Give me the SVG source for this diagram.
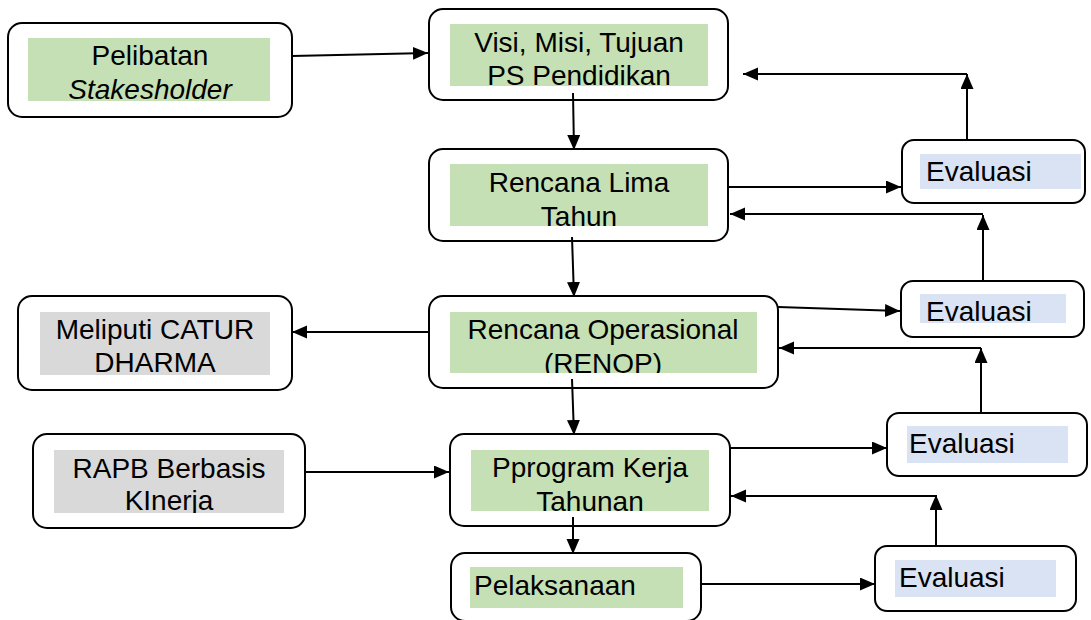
<svg xmlns="http://www.w3.org/2000/svg" width="1091" height="620" viewBox="0 0 1091 620">
<style>
.box{fill:#fff;stroke:#000;stroke-width:2}
.g{fill:#c5e0b4}
.gr{fill:#d9d9d9}
.b{fill:#dae3f3}
.t{font-family:"Liberation Sans",Arial,sans-serif;font-size:28px;fill:#000}
.c{stroke:#000;stroke-width:2;fill:none;marker-end:url(#ah)}
</style>
<defs>
<marker id="ah" markerUnits="userSpaceOnUse" markerWidth="16" markerHeight="14" refX="15" refY="6.5" orient="auto"><path d="M0,0 L15,6.5 L0,13 z" fill="#000"/></marker>
<clipPath id="cp2"><rect x="450" y="24" width="258" height="62"/></clipPath>
<clipPath id="cp3"><rect x="450" y="164" width="258" height="62"/></clipPath>
<clipPath id="cp4"><rect x="450" y="312" width="307" height="61"/></clipPath>
<clipPath id="cp5"><rect x="40" y="312" width="230" height="63"/></clipPath>
<clipPath id="cp6"><rect x="471" y="450" width="238" height="61"/></clipPath>
<clipPath id="cp7"><rect x="54" y="450" width="230" height="63"/></clipPath>
</defs>
<g id="n-pelibatan">
<rect class="box" x="8" y="23" width="284" height="94" rx="14"/>
<rect class="g" x="28" y="38" width="242" height="63"/>
<text class="t" x="150" y="65" text-anchor="middle">Pelibatan</text>
<text class="t" x="150" y="99" text-anchor="middle" font-style="italic">Stakesholder</text>
</g>
<g id="n-visi">
<rect class="box" x="429" y="9" width="299" height="91" rx="14"/>
<rect class="g" x="450" y="24" width="258" height="62"/>
<g clip-path="url(#cp2)">
<text class="t" x="579" y="52" text-anchor="middle">Visi, Misi, Tujuan</text>
<text class="t" x="579" y="85" text-anchor="middle">PS Pendidikan</text>
</g>
</g>
<g id="n-lima">
<rect class="box" x="429" y="149" width="299" height="92" rx="14"/>
<rect class="g" x="450" y="164" width="258" height="62"/>
<g clip-path="url(#cp3)">
<text class="t" x="579" y="192" text-anchor="middle">Rencana Lima</text>
<text class="t" x="579" y="226" text-anchor="middle">Tahun</text>
</g>
</g>
<g id="n-renop">
<rect class="box" x="429" y="296" width="349" height="92" rx="14"/>
<rect class="g" x="450" y="312" width="307" height="61"/>
<g clip-path="url(#cp4)">
<text class="t" x="603" y="339" text-anchor="middle">Rencana Operasional</text>
<text class="t" x="603" y="373" text-anchor="middle">(RENOP)</text>
</g>
</g>
<g id="n-meliputi">
<rect class="box" x="18" y="296" width="274" height="94" rx="14"/>
<rect class="gr" x="40" y="312" width="230" height="63"/>
<g clip-path="url(#cp5)">
<text class="t" x="155" y="339" text-anchor="middle">Meliputi CATUR</text>
<text class="t" x="155" y="372" text-anchor="middle">DHARMA</text>
</g>
</g>
<g id="n-program">
<rect class="box" x="450" y="434" width="280" height="92" rx="14"/>
<rect class="g" x="471" y="450" width="238" height="61"/>
<g clip-path="url(#cp6)">
<text class="t" x="590" y="477" text-anchor="middle">Pprogram Kerja</text>
<text class="t" x="590" y="511" text-anchor="middle">Tahunan</text>
</g>
</g>
<g id="n-rapb">
<rect class="box" x="33" y="434" width="272" height="94" rx="14"/>
<rect class="gr" x="54" y="450" width="230" height="63"/>
<g clip-path="url(#cp7)">
<text class="t" x="169" y="478" text-anchor="middle">RAPB Berbasis</text>
<text class="t" x="169" y="510" text-anchor="middle">KInerja</text>
</g>
</g>
<g id="n-pelaksanaan">
<rect class="box" x="451" y="553" width="250" height="68" rx="14"/>
<rect class="g" x="470" y="567" width="213" height="41"/>
<text class="t" x="474" y="595">Pelaksanaan</text>
</g>
<g id="n-eval1">
<rect class="box" x="902" y="140" width="183" height="63" rx="12"/>
<rect class="b" x="920" y="154" width="161" height="35"/>
<text class="t" x="926" y="181">Evaluasi</text>
</g>
<g id="n-eval2">
<rect class="box" x="901" y="281" width="183" height="56" rx="12"/>
<rect class="b" x="920" y="294" width="146" height="29"/>
<text class="t" x="926" y="321">Evaluasi</text>
</g>
<g id="n-eval3">
<rect class="box" x="887" y="413" width="200" height="63" rx="12"/>
<rect class="b" x="907" y="426" width="161" height="37"/>
<text class="t" x="909" y="453">Evaluasi</text>
</g>
<g id="n-eval4">
<rect class="box" x="875" y="546" width="201" height="65" rx="12"/>
<rect class="b" x="895" y="560" width="161" height="37"/>
<text class="t" x="899" y="587">Evaluasi</text>
</g>
<g id="connectors">
<path class="c" d="M292,56 L428,53"/>
<path class="c" d="M573,93 L574,150"/>
<path class="c" d="M572,237 L574,297"/>
<path class="c" d="M572,379 L574,435"/>
<path class="c" d="M573,517 L573,554"/>
<path class="c" d="M729,187 L901,187"/>
<path class="c" d="M967,140 L967,74"/>
<path class="c" d="M967,74 L743,74"/>
<path class="c" d="M778,307 L900,311"/>
<path class="c" d="M983,281 L983,215"/>
<path class="c" d="M983,214 L730,214"/>
<path class="c" d="M981,413 L981,348"/>
<path class="c" d="M981,348 L779,348"/>
<path class="c" d="M730,448 L887,448"/>
<path class="c" d="M936,546 L936,495"/>
<path class="c" d="M936,496 L731,496"/>
<path class="c" d="M702,584 L875,584"/>
<path class="c" d="M429,332 L292,332"/>
<path class="c" d="M305,472 L449,472"/>
</g>
</svg>
